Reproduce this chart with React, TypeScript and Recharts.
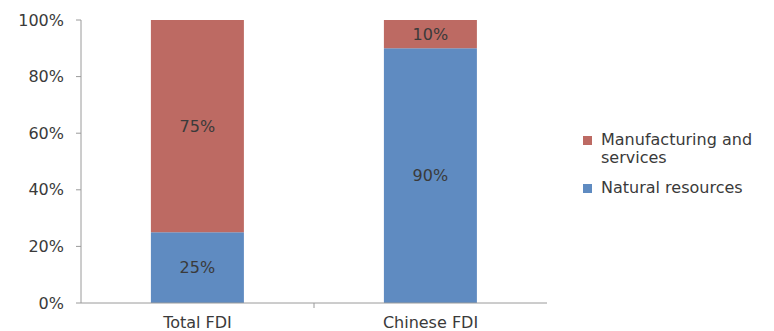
import { BarChart, Bar, XAxis, YAxis, Legend, LabelList } from "recharts";

const categories = ["Total FDI", "Chinese FDI"];
const naturalResources = [25, 90];
const manufacturingServices = [75, 10];
const yTicks = [0, 20, 40, 60, 80, 100];

const RED = "#BD6A63";
const BLUE = "#5F8BC1";
const TEXT = "#3a3a3a";
const FONT = "'DejaVu Sans', Verdana, sans-serif";
const FS = 16;

const data = categories.map((name, i) => ({
  name,
  natural: naturalResources[i],
  manufacturing: manufacturingServices[i],
}));

const legendItems = [
  { label: "Manufacturing and\nservices", color: RED },
  { label: "Natural resources", color: BLUE },
];

function XTick(props: any) {
  const { x, y, payload, index } = props;
  return (
    <g>
      {index === 0 && (
        <line
          x1={x + payload.offset}
          x2={x + payload.offset}
          y1={y - 8}
          y2={y - 3}
          stroke="#9a9a9a"
        />
      )}
      <text
        x={x}
        y={y + 11}
        textAnchor="middle"
        dominantBaseline="central"
        fill={TEXT}
        fontSize={FS}
        fontFamily={FONT}
      >
        {payload.value}
      </text>
    </g>
  );
}

function LegendBox() {
  return (
    <div style={{ fontFamily: FONT, fontSize: FS, color: TEXT }}>
      {legendItems.map((it) => (
        <div
          key={it.label}
          style={{ display: "flex", alignItems: "flex-start", marginBottom: 12, lineHeight: "18px" }}
        >
          <span
            style={{
              width: 9,
              height: 9,
              background: it.color,
              marginTop: 5,
              marginRight: 9,
              flexShrink: 0,
            }}
          />
          <span style={{ whiteSpace: "pre" }}>{it.label}</span>
        </div>
      ))}
    </div>
  );
}

export default function App() {
  return (
    <div style={{ position: "absolute", left: 0, top: 0, background: "#fff" }}>
      <BarChart
        width={774}
        height={331}
        data={data}
        margin={{ top: 20, right: 37, bottom: 0, left: 0 }}
        barCategoryGap="30%"
      >
        <YAxis
          width={81}
          domain={[0, 100]}
          ticks={yTicks}
          tickFormatter={(v) => `${v}%`}
          stroke="#9a9a9a"
          tickSize={5}
          tickMargin={12}
          tick={{ fill: TEXT, fontSize: FS, fontFamily: FONT }}
        />
        <XAxis
          dataKey="name"
          height={28}
          stroke="#9a9a9a"
          tickLine={false}
          tick={<XTick />}
        />
        <Legend
          layout="vertical"
          verticalAlign="middle"
          align="right"
          wrapperStyle={{ left: 583, top: 131, width: 190 }}
          content={() => <LegendBox />}
        />
        <Bar dataKey="natural" stackId="a" fill={BLUE} isAnimationActive={false}>
          <LabelList
            dataKey="natural"
            position="center"
            formatter={(v: any) => `${v}%`}
            fill={TEXT}
            fontSize={FS}
            fontFamily={FONT}
          />
        </Bar>
        <Bar dataKey="manufacturing" stackId="a" fill={RED} isAnimationActive={false}>
          <LabelList
            dataKey="manufacturing"
            position="center"
            formatter={(v: any) => `${v}%`}
            fill={TEXT}
            fontSize={FS}
            fontFamily={FONT}
          />
        </Bar>
      </BarChart>
    </div>
  );
}
